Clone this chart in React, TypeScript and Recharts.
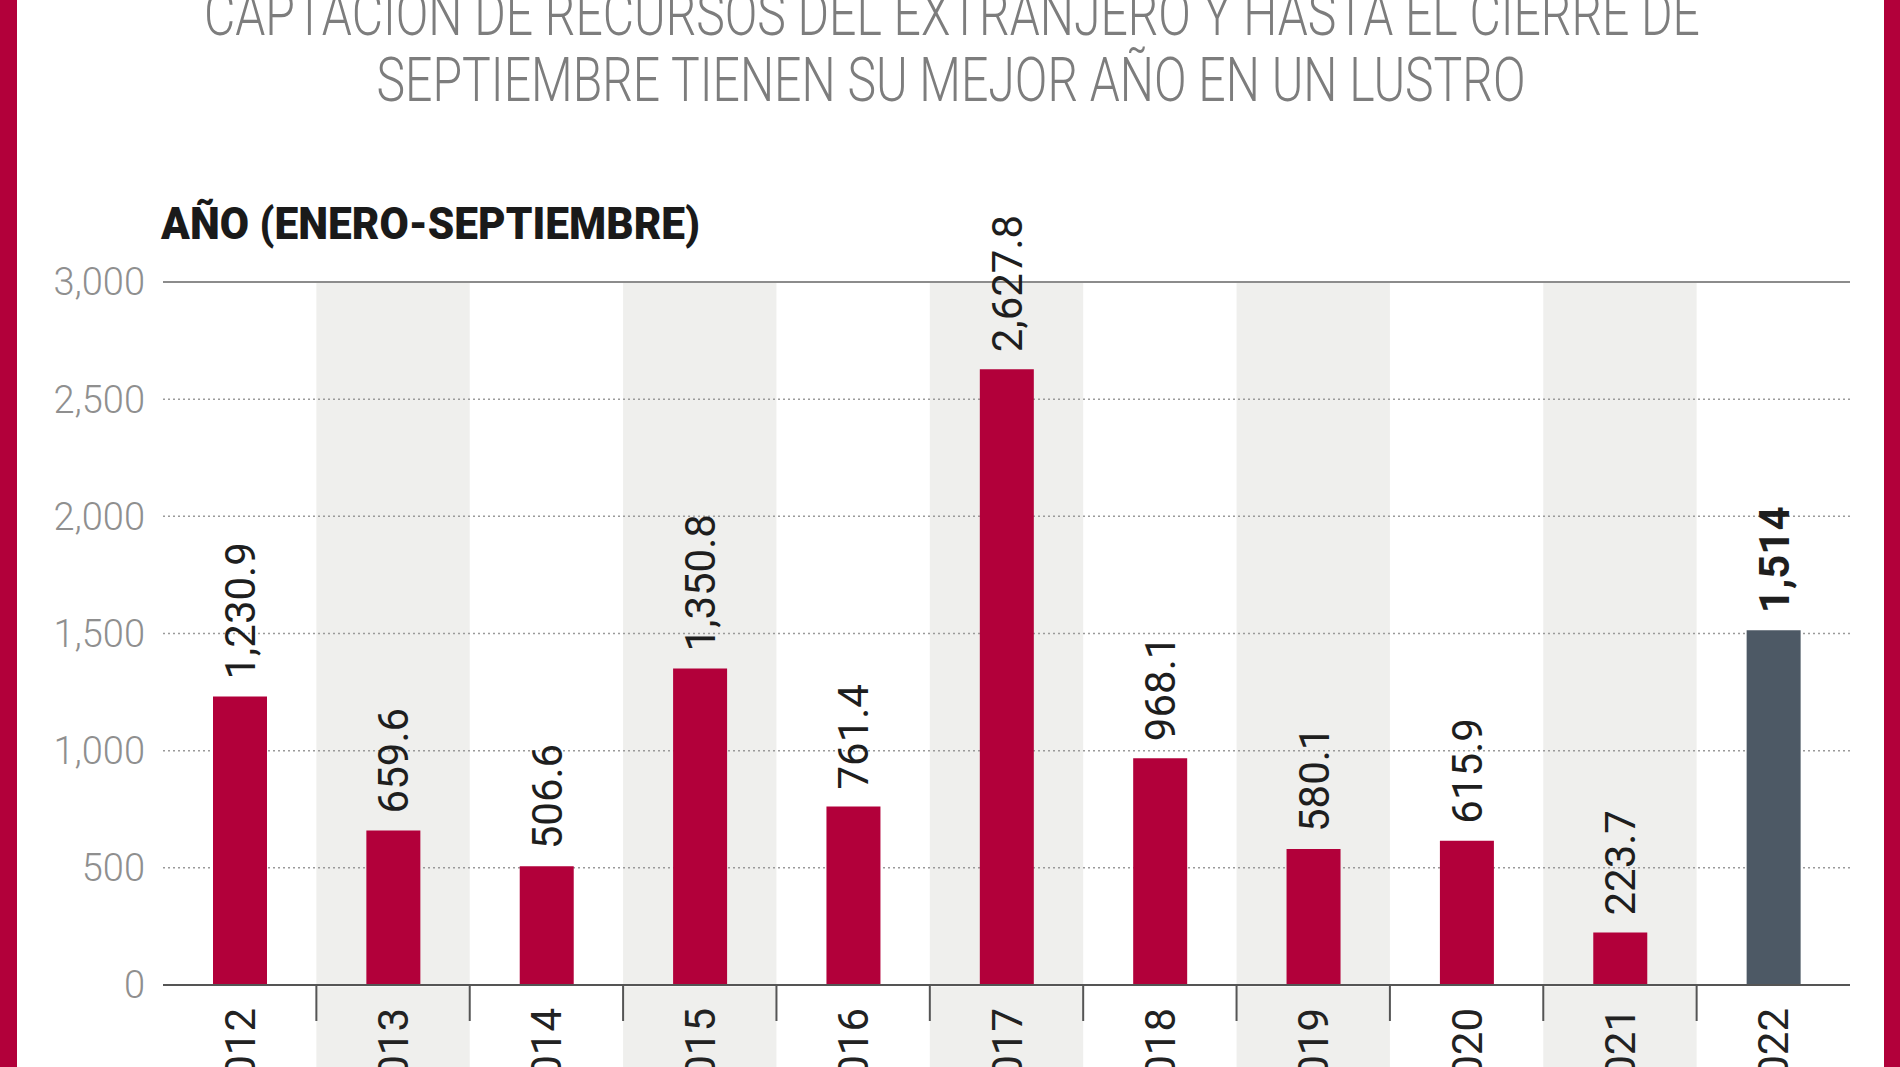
import {
  Bar,
  BarChart,
  CartesianGrid,
  Cell,
  LabelList,
  ReferenceArea,
  ReferenceLine,
  XAxis,
  YAxis,
} from "recharts";

const YEARS = ["2012", "2013", "2014", "2015", "2016", "2017", "2018", "2019", "2020", "2021", "2022"];
const VALUES = [1230.9, 659.6, 506.6, 1350.8, 761.4, 2627.8, 968.1, 580.1, 615.9, 223.7, 1514];
const HIGHLIGHT_YEAR = "2022";
const Y_TICKS = [0, 500, 1000, 1500, 2000, 2500, 3000];
const TITLE_LINES = [
  "CAPTACION DE RECURSOS DEL EXTRANJERO Y HASTA EL CIERRE DE",
  "SEPTIEMBRE TIENEN SU MEJOR AÑO EN  UN LUSTRO",
];
const SUBTITLE = "AÑO (ENERO-SEPTIEMBRE)";

// layout
const W = 1900;
const H = 1067;
const PLOT_LEFT = 163;
const PLOT_RIGHT = 1850;
const PLOT_TOP = 282;
const PLOT_BOTTOM = 985;
const Y_AXIS_W = 100;
const BAND = (PLOT_RIGHT - PLOT_LEFT) / YEARS.length;

const RED = "#B2003A";
const GREY_BAR = "#4D5965";
const STRIPE = "#EFEFED";
const FONT = "Roboto, 'Noto Sans', sans-serif";

const data = YEARS.map((year, i) => ({ year, value: VALUES[i] }));

const fmt = (v: number) =>
  v.toLocaleString("en-US", {
    minimumFractionDigits: Number.isInteger(v) ? 0 : 1,
    maximumFractionDigits: 1,
  });

const YearTick = (props: any) => {
  const { x, index, payload } = props;
  const left = x - BAND / 2;
  return (
    <g>
      {index % 2 === 1 && (
        <rect x={left} y={PLOT_BOTTOM + 1.5} width={BAND} height={H - PLOT_BOTTOM} fill={STRIPE} />
      )}
      {index > 0 && (
        <line x1={left} x2={left} y1={PLOT_BOTTOM} y2={PLOT_BOTTOM + 36} stroke="#555" strokeWidth={2} />
      )}
      <text
        transform={`translate(${x + 15}, ${PLOT_BOTTOM + 23}) rotate(-90)`}
        textAnchor="end"
        fontFamily={FONT}
        fontSize={42}
        fill="#222"
      >
        {payload.value}
      </text>
    </g>
  );
};

export default function App() {
  return (
    <div
      style={{
        position: "absolute",
        left: 0,
        top: 0,
        width: W,
        height: H,
        overflow: "hidden",
        background: "#fff",
      }}
    >
      <BarChart
        width={W}
        height={H}
        data={data}
        margin={{ top: PLOT_TOP, right: W - PLOT_RIGHT, bottom: 0, left: PLOT_LEFT - Y_AXIS_W }}
      >
        {/* alternate column stripes */}
        {YEARS.map((year, i) =>
          i % 2 === 1 ? (
            <ReferenceArea
              key={year}
              x1={year}
              x2={year}
              fill={STRIPE}
              fillOpacity={1}
              stroke="none"
              zIndex={-200}
            />
          ) : null
        )}
        <CartesianGrid vertical={false} stroke="#9a9a9a" strokeWidth={1.5} strokeDasharray="2 3" />
        <ReferenceLine y={3000} stroke="#8c8c8c" strokeWidth={2} />
        <XAxis
          dataKey="year"
          interval={0}
          height={H - PLOT_BOTTOM}
          axisLine={{ stroke: "#555", strokeWidth: 2 }}
          tickLine={false}
          tick={<YearTick />}
        />
        <YAxis
          width={Y_AXIS_W}
          domain={[0, 3000]}
          ticks={Y_TICKS}
          axisLine={false}
          tickLine={false}
          tickSize={0}
          tickMargin={18}
          tickFormatter={(v: number) => v.toLocaleString("en-US")}
          tick={{ fill: "#8f8f8f", fontSize: 38, fontFamily: FONT, fontWeight: 300 }}
        />
        <Bar dataKey="value" barSize={54} isAnimationActive={false}>
          {data.map((d) => (
            <Cell key={d.year} fill={d.year === HIGHLIGHT_YEAR ? GREY_BAR : RED} />
          ))}
          <LabelList
            dataKey="value"
            content={(props: any) => {
              const { x = 0, y = 0, width = 0, value, index } = props;
              const bold = YEARS[index] === HIGHLIGHT_YEAR;
              return (
                <text
                  transform={`translate(${x + width / 2 + 15}, ${y - 17}) rotate(-90)`}
                  fontFamily={FONT}
                  fontSize={42}
                  fontWeight={bold ? 700 : 400}
                  fill="#1e1e1e"
                >
                  {fmt(value)}
                </text>
              );
            }}
          />
        </Bar>
      </BarChart>

      {/* titles and frame */}
      <svg width={W} height={H} style={{ position: "absolute", left: 0, top: 0, pointerEvents: "none" }}>
        <text
          x={952}
          y={35}
          textAnchor="middle"
          textLength={1496}
          lengthAdjust="spacingAndGlyphs"
          fontFamily={FONT}
          fontWeight={300}
          fontSize={62}
          fill="#7d7d7d"
        >
          {TITLE_LINES[0]}
        </text>
        <text
          x={951}
          y={101}
          textAnchor="middle"
          textLength={1149}
          lengthAdjust="spacingAndGlyphs"
          fontFamily={FONT}
          fontWeight={300}
          fontSize={62}
          fill="#7d7d7d"
        >
          {TITLE_LINES[1]}
        </text>
        <text
          x={161}
          y={239}
          textLength={539}
          lengthAdjust="spacingAndGlyphs"
          fontFamily={FONT}
          fontWeight={900}
          fontSize={44}
          fill="#1a1a1a"
        >
          {SUBTITLE}
        </text>
        <rect x={0} y={0} width={17} height={H} fill={RED} />
        <rect x={1884} y={0} width={W - 1884} height={H} fill={RED} />
      </svg>
    </div>
  );
}
